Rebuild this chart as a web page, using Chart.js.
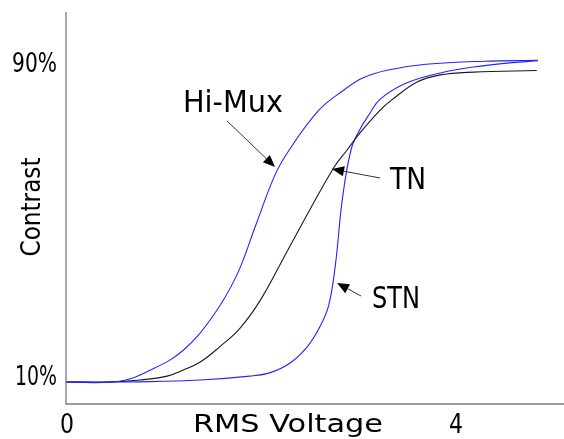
<!DOCTYPE html>
<html>
<head>
<meta charset="utf-8">
<script src="https://cdn.jsdelivr.net/npm/chart.js@4/dist/chart.umd.min.js"></script>
<style>
  html, body { margin: 0; padding: 0; background: #fff; }
  #wrap { width: 564px; height: 439px; }
</style>
</head>
<body>
<div id="wrap"><canvas id="lcdChart"></canvas></div>
<script>
// Curvas de contraste x tensão RMS
const hiMuxVolt = [0, 0.55, 0.864, 1.2, 1.5, 1.75, 1.95, 2.15, 2.3, 2.6, 2.85, 3.05, 3.3, 3.7, 4.3, 4.853];
const hiMuxContrast = [10, 10.2, 13, 18, 26.5, 37, 50, 63, 69.5, 79.5, 84.5, 87.7, 89.7, 91.2, 92, 92.2];

const tnVolt = [0, 0.45, 0.76, 1.04, 1.2, 1.38, 1.58, 1.79, 2.0, 2.28, 2.75, 2.89, 3.02, 3.23, 3.35, 3.61, 3.85, 4.19, 4.84];
const tnContrast = [10, 10, 10.5, 11.5, 13, 15.1, 19, 23.8, 31, 43.7, 64.7, 69.3, 73.6, 79.5, 82.1, 86.7, 88.5, 89.2, 89.6];

const stnVolt = [0, 0.86, 1.38, 1.89, 2.1, 2.3, 2.48, 2.61, 2.7, 2.77, 2.84, 2.93, 3.02, 3.12, 3.23, 3.5, 3.85, 4.19, 4.53, 4.853];
const stnContrast = [10, 10.1, 10.5, 11.5, 12.4, 14.8, 19, 24.1, 29.5, 40, 56.5, 69.3, 74.5, 78.5, 82.3, 86.4, 89, 90.5, 91.5, 92.1];

const xTicks = [0, 4];
const yTicks = [10, 90];

// Rótulos das curvas e setas (coordenadas nos eixos do gráfico)
const labelNames = ['Hi-Mux', 'TN', 'STN'];
const labelPos = [[1.717, 81.05], [3.517, 61.37], [3.393, 30.96]];
const arrowFrom = [[1.656, 76.71], [3.229, 62.14], [3.033, 31.98]];
const arrowTo = [[2.149, 64.95], [2.735, 64.44], [2.787, 35.3]];

function toPoints(xs, ys) {
    return xs.map((x, i) => ({ x: x, y: ys[i] }));
}

const FONT = '"DejaVu Sans", sans-serif';

// Desenha texto ajustado a uma largura alvo
function fitText(ctx, text, x, y, size, width, align, rot) {
    ctx.save();
    ctx.font = size + 'px ' + FONT;
    const w = ctx.measureText(text).width;
    const sx = width / w;
    ctx.translate(x, y);
    if (rot) ctx.rotate(rot);
    ctx.scale(sx, 1);
    ctx.textBaseline = 'middle';
    ctx.textAlign = align || 'center';
    ctx.fillStyle = '#000';
    ctx.fillText(text, 0, 0);
    ctx.restore();
}

const decorPlugin = {
    id: 'decor',
    afterDraw(chart) {
        const ctx = chart.ctx;
        const xs = chart.scales.x;
        const ys = chart.scales.y;
        const area = chart.chartArea;

        // eixos
        ctx.save();
        ctx.strokeStyle = '#7a7a7a';
        ctx.lineWidth = 1.3;
        ctx.beginPath();
        ctx.moveTo(area.left, area.top);
        ctx.lineTo(area.left, area.bottom);
        ctx.lineTo(area.right, area.bottom);
        ctx.stroke();
        ctx.restore();

        // rótulos dos ticks
        const yWidths = [42, 45];
        yTicks.forEach((v, i) => {
            fitText(ctx, v + '%', 57, ys.getPixelForValue(v) - 4, 26, yWidths[i], 'right');
        });
        xTicks.forEach(v => {
            fitText(ctx, String(v), xs.getPixelForValue(v) + 1, 426, 26, 14, 'center');
        });

        // títulos dos eixos
        fitText(ctx, 'RMS Voltage', 288, 425, 25, 190, 'center');
        fitText(ctx, 'Contrast', 33, 207, 26, 99, 'center', -Math.PI / 2);

        // setas
        ctx.save();
        ctx.strokeStyle = '#333';
        ctx.fillStyle = '#000';
        ctx.lineWidth = 1;
        arrowFrom.forEach((p, i) => {
            const x1 = xs.getPixelForValue(p[0]), y1 = ys.getPixelForValue(p[1]);
            const x2 = xs.getPixelForValue(arrowTo[i][0]), y2 = ys.getPixelForValue(arrowTo[i][1]);
            const ang = Math.atan2(y2 - y1, x2 - x1);
            const len = 12, half = 5;
            const bx = x2 - len * Math.cos(ang), by = y2 - len * Math.sin(ang);
            ctx.beginPath();
            ctx.moveTo(x1, y1);
            ctx.lineTo(bx, by);
            ctx.stroke();
            ctx.beginPath();
            ctx.moveTo(x2, y2);
            ctx.lineTo(bx + half * Math.sin(ang), by - half * Math.cos(ang));
            ctx.lineTo(bx - half * Math.sin(ang), by + half * Math.cos(ang));
            ctx.closePath();
            ctx.fill();
        });
        ctx.restore();

        const labelWidths = [100, 36, 48];
        labelNames.forEach((t, i) => {
            fitText(ctx, t, xs.getPixelForValue(labelPos[i][0]), ys.getPixelForValue(labelPos[i][1]), 30, labelWidths[i], 'center');
        });
    }
};

document.addEventListener('DOMContentLoaded', function () {
    const ctx = document.getElementById('lcdChart').getContext('2d');
    const blue = 'rgb(35, 35, 255)';

    new Chart(ctx, {
        type: 'line',
        data: {
            datasets: [
                { label: 'Hi-Mux', data: toPoints(hiMuxVolt, hiMuxContrast), borderColor: blue },
                { label: 'TN', data: toPoints(tnVolt, tnContrast), borderColor: '#1a1a1a' },
                { label: 'STN', data: toPoints(stnVolt, stnContrast), borderColor: blue }
            ]
        },
        options: {
            responsive: true,
            maintainAspectRatio: false,
            animation: false,
            layout: { padding: { left: 66, top: 12, right: 0, bottom: 35 } },
            elements: {
                point: { radius: 0 },
                line: { borderWidth: 1.1, tension: 0.4, fill: false }
            },
            plugins: { legend: { display: false }, tooltip: { enabled: false } },
            scales: {
                x: { type: 'linear', min: 0, max: 5.12, display: false },
                y: { type: 'linear', min: 4.38, max: 104.57, display: false }
            }
        },
        plugins: [decorPlugin]
    });
});
</script>
</body>
</html>
